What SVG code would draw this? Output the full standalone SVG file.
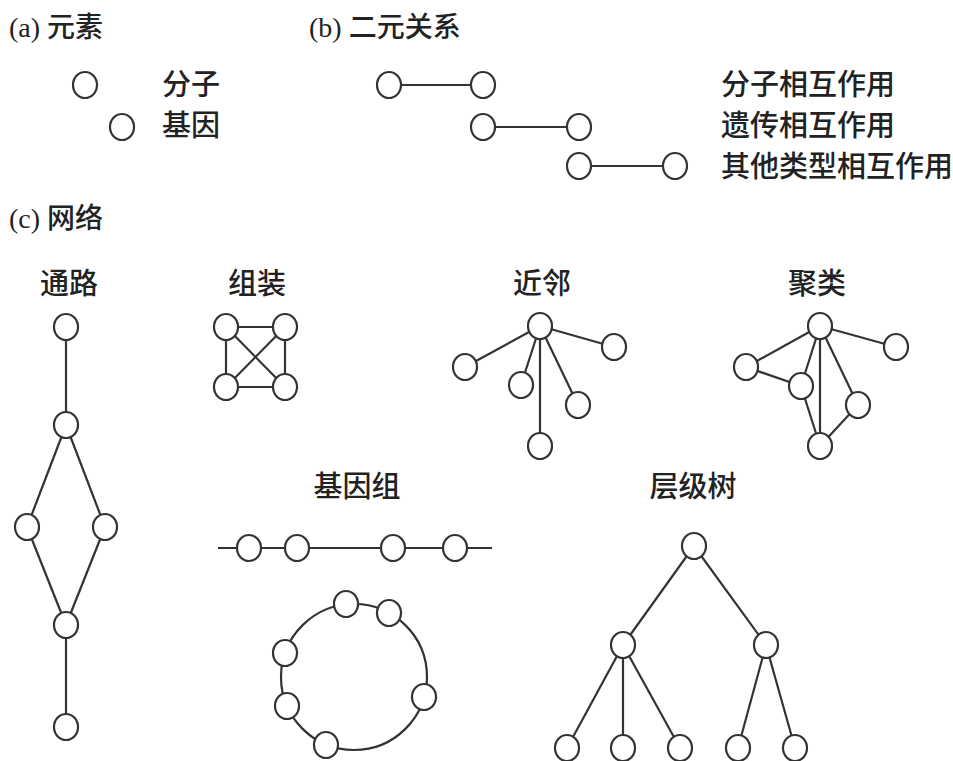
<svg xmlns="http://www.w3.org/2000/svg" width="953" height="761" viewBox="0 0 953 761">
<style>
.n{fill:#fff;stroke:#333;stroke-width:2.2}
.e{stroke:#333;stroke-width:2.2;fill:none}
.t{font-family:"Noto Sans CJK SC","Liberation Sans",sans-serif;font-size:29px;font-weight:500;fill:#222}
.h{font-family:"Liberation Serif","Noto Sans CJK SC",serif;font-size:28px;font-weight:500;fill:#222}
.c{text-anchor:middle}
</style>
<defs>
<ellipse id="o" class="n" rx="12" ry="13"/>
</defs>
<rect width="953" height="761" fill="#fff"/>

<g id="titles">
<text class="h" x="9" y="37">(a) 元素</text>
<text class="h" x="309" y="37">(b) 二元关系</text>
<text class="h" x="9" y="228">(c) 网络</text>
</g>

<g id="labels">
<text class="t" x="162" y="95">分子</text>
<text class="t" x="162" y="136">基因</text>
<text class="t" x="721" y="95">分子相互作用</text>
<text class="t" x="721" y="136">遗传相互作用</text>
<text class="t" x="721" y="177">其他类型相互作用</text>
<text class="t c" x="69" y="294">通路</text>
<text class="t c" x="257" y="294">组装</text>
<text class="t c" x="542" y="294">近邻</text>
<text class="t c" x="817" y="294">聚类</text>
<text class="t c" x="357" y="497">基因组</text>
<text class="t c" x="693" y="497">层级树</text>
</g>

<g id="connectors">
<line class="e" x1="389" y1="85" x2="483" y2="85"/>
<line class="e" x1="483" y1="127" x2="579" y2="127"/>
<line class="e" x1="579" y1="166" x2="675" y2="166"/>
<line class="e" x1="66" y1="327" x2="66" y2="425"/>
<line class="e" x1="66" y1="425" x2="27" y2="527"/>
<line class="e" x1="66" y1="425" x2="105" y2="527"/>
<line class="e" x1="27" y1="527" x2="66" y2="625"/>
<line class="e" x1="105" y1="527" x2="66" y2="625"/>
<line class="e" x1="66" y1="625" x2="66" y2="727"/>
<line class="e" x1="226" y1="327" x2="285" y2="327"/>
<line class="e" x1="226" y1="387" x2="285" y2="387"/>
<line class="e" x1="226" y1="327" x2="226" y2="387"/>
<line class="e" x1="285" y1="327" x2="285" y2="387"/>
<line class="e" x1="226" y1="327" x2="285" y2="387"/>
<line class="e" x1="285" y1="327" x2="226" y2="387"/>
<line class="e" x1="540" y1="326" x2="614" y2="347"/>
<line class="e" x1="540" y1="326" x2="465" y2="367"/>
<line class="e" x1="540" y1="326" x2="521" y2="385"/>
<line class="e" x1="540" y1="326" x2="578" y2="405"/>
<line class="e" x1="540" y1="326" x2="540" y2="446"/>
<line class="e" x1="820" y1="326" x2="896" y2="347"/>
<line class="e" x1="820" y1="326" x2="746" y2="367"/>
<line class="e" x1="820" y1="326" x2="801" y2="386"/>
<line class="e" x1="820" y1="326" x2="820" y2="446"/>
<line class="e" x1="820" y1="326" x2="858" y2="405"/>
<line class="e" x1="746" y1="367" x2="801" y2="386"/>
<line class="e" x1="801" y1="386" x2="820" y2="446"/>
<line class="e" x1="858" y1="405" x2="820" y2="446"/>
<line class="e" x1="218" y1="548" x2="492" y2="548"/>
<circle class="e" cx="354" cy="677" r="73"/>
<line class="e" x1="694" y1="546" x2="623" y2="645"/>
<line class="e" x1="694" y1="546" x2="766" y2="645"/>
<line class="e" x1="623" y1="645" x2="567" y2="748"/>
<line class="e" x1="623" y1="645" x2="623" y2="748"/>
<line class="e" x1="623" y1="645" x2="680" y2="748"/>
<line class="e" x1="766" y1="645" x2="738" y2="748"/>
<line class="e" x1="766" y1="645" x2="795" y2="748"/>
</g>

<g id="elements">
<g id="a-molecule"><use href="#o" x="85" y="85"/></g>
<g id="a-gene"><use href="#o" x="122" y="127"/></g>
</g>
<g id="binary">
<g id="b1a"><use href="#o" x="389" y="85"/></g>
<g id="b1b"><use href="#o" x="483" y="85"/></g>
<g id="b2a"><use href="#o" x="483" y="127"/></g>
<g id="b2b"><use href="#o" x="579" y="127"/></g>
<g id="b3a"><use href="#o" x="579" y="166"/></g>
<g id="b3b"><use href="#o" x="675" y="166"/></g>
</g>
<g id="pathway">
<g id="p1"><use href="#o" x="66" y="327"/></g>
<g id="p2"><use href="#o" x="66" y="425"/></g>
<g id="p3"><use href="#o" x="27" y="527"/></g>
<g id="p4"><use href="#o" x="105" y="527"/></g>
<g id="p5"><use href="#o" x="66" y="625"/></g>
<g id="p6"><use href="#o" x="66" y="727"/></g>
</g>
<g id="assembly">
<g id="s1"><use href="#o" x="226" y="327"/></g>
<g id="s2"><use href="#o" x="285" y="327"/></g>
<g id="s3"><use href="#o" x="226" y="387"/></g>
<g id="s4"><use href="#o" x="285" y="387"/></g>
</g>
<g id="neighborhood">
<g id="nb0"><use href="#o" x="540" y="326"/></g>
<g id="nb1"><use href="#o" x="614" y="347"/></g>
<g id="nb2"><use href="#o" x="465" y="367"/></g>
<g id="nb3"><use href="#o" x="521" y="385"/></g>
<g id="nb4"><use href="#o" x="578" y="405"/></g>
<g id="nb5"><use href="#o" x="540" y="446"/></g>
</g>
<g id="cluster">
<g id="cl0"><use href="#o" x="820" y="326"/></g>
<g id="cl1"><use href="#o" x="896" y="347"/></g>
<g id="cl2"><use href="#o" x="746" y="367"/></g>
<g id="cl3"><use href="#o" x="801" y="386"/></g>
<g id="cl4"><use href="#o" x="858" y="405"/></g>
<g id="cl5"><use href="#o" x="820" y="446"/></g>
</g>
<g id="genome">
<g id="g1"><use href="#o" x="249" y="548"/></g>
<g id="g2"><use href="#o" x="297" y="548"/></g>
<g id="g3"><use href="#o" x="393" y="548"/></g>
<g id="g4"><use href="#o" x="455" y="548"/></g>
<g id="r1"><use href="#o" x="346" y="604"/></g>
<g id="r2"><use href="#o" x="389" y="613"/></g>
<g id="r3"><use href="#o" x="285" y="653"/></g>
<g id="r4"><use href="#o" x="287" y="706"/></g>
<g id="r5"><use href="#o" x="326" y="745"/></g>
<g id="r6"><use href="#o" x="424" y="697"/></g>
</g>
<g id="tree">
<g id="t0"><use href="#o" x="694" y="546"/></g>
<g id="t1"><use href="#o" x="623" y="645"/></g>
<g id="t2"><use href="#o" x="766" y="645"/></g>
<g id="t3"><use href="#o" x="567" y="748"/></g>
<g id="t4"><use href="#o" x="623" y="748"/></g>
<g id="t5"><use href="#o" x="680" y="748"/></g>
<g id="t6"><use href="#o" x="738" y="748"/></g>
<g id="t7"><use href="#o" x="795" y="748"/></g>
</g>
</svg>
